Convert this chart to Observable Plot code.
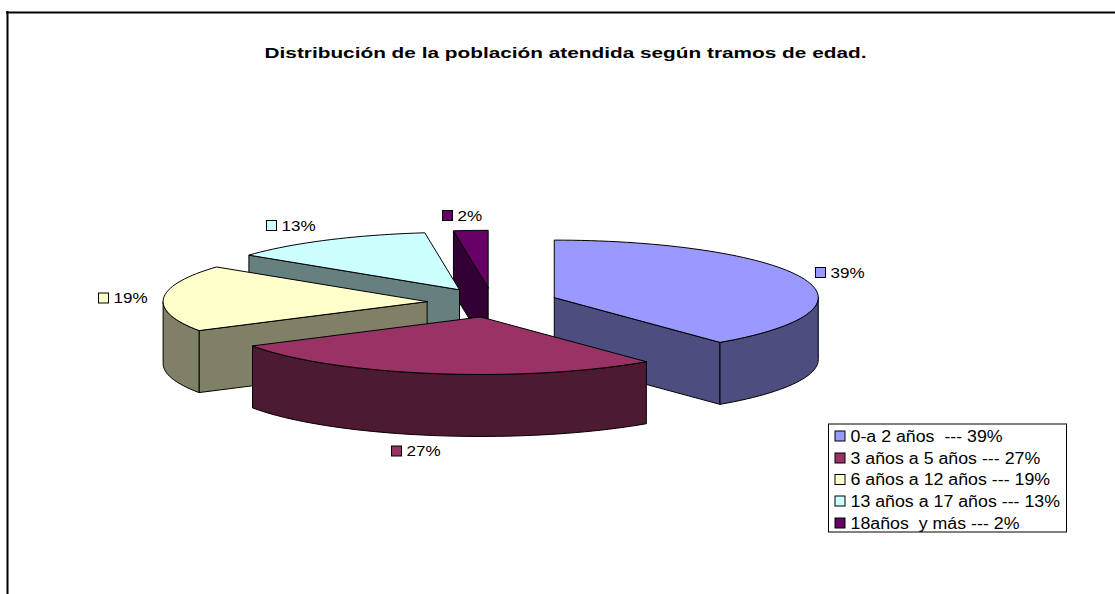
<!DOCTYPE html>
<html><head><meta charset="utf-8">
<script src="https://cdn.jsdelivr.net/npm/d3@7"></script>
<script src="https://cdn.jsdelivr.net/npm/@observablehq/plot@0.6"></script>
<style>html,body{margin:0;padding:0;background:#fff;overflow:hidden}</style>
</head><body><div id="chart"></div>
<script>
// data
const categories = ["0-a 2 años ", "3 años a 5 años", "6 años a 12 años", "13 años a 17 años", "18años  y más"];
// slice sizes; printed labels are these values rounded
const shares = [39.2, 27.4, 18.7, 12.6, 2.1];
const topColors = ["#9999FF", "#993366", "#FFFFCC", "#CCFFFF", "#660066"];
const wallColors = ["#4D4D80", "#4D1A33", "#808066", "#668080", "#330033"];
const titleText = "Distribución de la población atendida según tramos de edad.";
// projection of the exploded 3D pie (canvas units)
const pie = {cx: 492, cy: 302, rx: 264, ry: 57.5, ex: 65.5, ey: 14.7, depth: 62};
// label anchors (swatch left edge, centre y), order as categories
const labelAnchors = [[815, 272.5], [391, 451], [98, 298], [266, 225.5], [442, 215.5]];
const legendBox = {x1: 828.5, x2: 1066.5, y1: 424, y2: 532, rows: [436, 458, 479.5, 501, 523], sx: 834.5, tx: 850};

const W = 1115, H = 594, rad = Math.PI / 180;
const total = d3.sum(shares);
let acc = 0;
const slices = shares.map((v, i) => {
  const a0 = acc / total * 360; acc += v; const a1 = acc / total * 360;
  const mid = (a0 + a1) / 2 * rad;
  return {i, a0, a1, ax: pie.cx + pie.ex * Math.sin(mid), ay: pie.cy - pie.ey * Math.cos(mid)};
});
const rim = (s, deg, dz = 0) => ({
  x: s.ax + pie.rx * Math.sin(deg * rad),
  y: s.ay - pie.ry * Math.cos(deg * rad) + dz
});
const arcPts = (s, a0, a1, dz = 0) => {
  const n = Math.max(2, Math.ceil((a1 - a0) / 2));
  return d3.range(n + 1).map(k => rim(s, a0 + (a1 - a0) * k / n, dz));
};
const closed = p => [...p, p[0]];
const poly = (pts, fill) => Plot.line(closed(pts), {x: "x", y: "y", fill, stroke: "#000", strokeWidth: 1, curve: "linear"});

const marks = [];
// frame: top and left only
marks.push(Plot.ruleY([12], {x1: 6, x2: W, stroke: "#000", strokeWidth: 2}));
marks.push(Plot.ruleX([7], {y1: 11, y2: H, stroke: "#000", strokeWidth: 2}));
marks.push(Plot.text([titleText], {x: 565, y: 53, text: d => d, fontWeight: "bold", fontSize: 15, fill: "#000", className: "t-title"}));

// painter's order: back slices to front slices
for (const i of [4, 3, 2, 0, 1]) {
  const s = slices[i], apex = {x: s.ax, y: s.ay}, down = {x: s.ax, y: s.ay + pie.depth};
  const wall = wallColors[i];
  if (Math.sin(s.a0 * rad) < -1e-6) {
    const r = rim(s, s.a0);
    marks.push(poly([apex, r, {x: r.x, y: r.y + pie.depth}, down], wall));
  }
  if (Math.sin(s.a1 * rad) > 1e-6) {
    const r = rim(s, s.a1);
    marks.push(poly([apex, r, {x: r.x, y: r.y + pie.depth}, down], wall));
  }
  const f0 = Math.max(s.a0, 90), f1 = Math.min(s.a1, 270);
  if (f1 > f0) marks.push(poly([...arcPts(s, f0, f1), ...arcPts(s, f0, f1, pie.depth).reverse()], wall));
  marks.push(poly([apex, ...arcPts(s, s.a0, s.a1)], topColors[i]));
}

// swatch + text helper
const swatch = (x, y, fill) => Plot.rect([0], {x1: x + .5, x2: x + 10.5, y1: y - 5, y2: y + 5, fill, stroke: "#000", strokeWidth: 1});
const pct = v => `${Math.round(v)}%`;
shares.forEach((v, i) => {
  const [x, y] = labelAnchors[i];
  marks.push(swatch(x, y, topColors[i]));
  marks.push(Plot.text([pct(v)], {x: x + 15, y, text: d => d, textAnchor: "start", fontSize: 15.5, fill: "#000", className: "t-label"}));
});

// legend
marks.push(Plot.rect([0], {x1: legendBox.x1, x2: legendBox.x2, y1: legendBox.y1, y2: legendBox.y2, fill: "#fff", stroke: "#000", strokeWidth: 1}));
categories.forEach((c, i) => {
  const y = legendBox.rows[i];
  marks.push(swatch(legendBox.sx, y, topColors[i]));
  marks.push(Plot.text([`${c} --- ${pct(shares[i])}`], {x: legendBox.tx, y, text: d => d, textAnchor: "start", fontSize: 15.6, fill: "#000", className: "t-legend"}));
});

const chart = Plot.plot({
  width: W, height: H, margin: 0,
  style: {fontFamily: "'Liberation Sans', Arial, sans-serif", background: "#fff", whiteSpace: "pre"},
  x: {domain: [0, W], range: [0, W], axis: null},
  y: {domain: [0, H], range: [0, H], axis: null},
  marks
});
document.getElementById("chart").append(chart);
// the reference's text is horizontally stretched: widen glyphs to match
const stretch = (cls, f) => chart.querySelectorAll(`.${cls} text`).forEach(t => {
  t.setAttribute("textLength", t.getComputedTextLength() * f);
  t.setAttribute("lengthAdjust", "spacingAndGlyphs");
});
stretch("t-title", 602 / (388 * 15 / 13.4));
stretch("t-label", 1.10);
stretch("t-legend", 1.14);
</script></body></html>
